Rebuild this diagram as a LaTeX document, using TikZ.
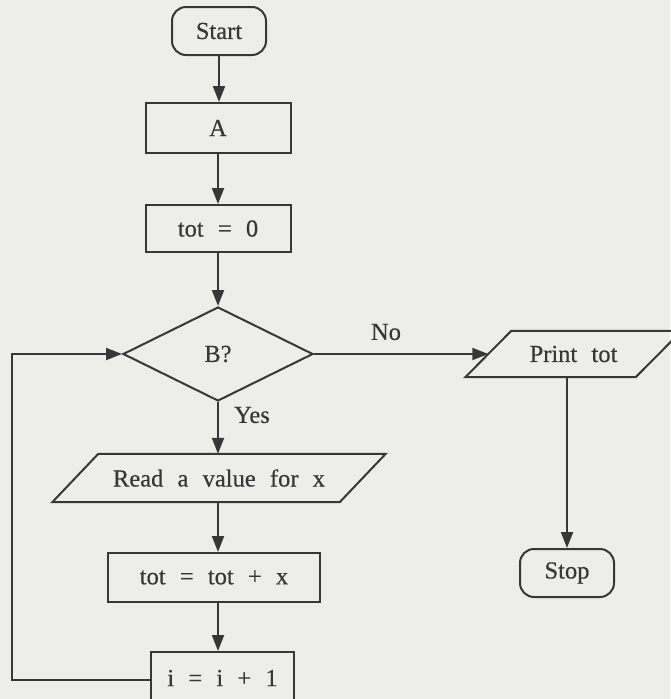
\documentclass[tikz,border=0pt]{standalone}
\usepackage{fontspec}
\setmainfont[FakeBold=0.4]{Liberation Serif}
\usetikzlibrary{shapes.geometric,arrows.meta}
\definecolor{ink}{RGB}{55,55,55}
\definecolor{paper}{RGB}{237,237,234}
\newcommand\flowfont{\fontsize{24.5}{28}\selectfont\spaceskip 0.58em\relax}
\begin{document}
\begin{tikzpicture}[x=1pt,y=-1pt,
  every node/.style={font=\flowfont, text=ink},
  line/.style={draw=ink, line width=2pt},
  box/.style={line, rectangle, inner sep=0pt},
  term/.style={box, rounded corners=14pt},
  iobody/.style={rectangle, inner sep=0pt},
  dec/.style={line, diamond, inner sep=0pt},
  arr/.style={line, -{Triangle[length=16pt,width=12pt]}},
  lbl/.style={inner sep=0pt}]
\fill[paper] (0,0) rectangle (670,699);
\useasboundingbox (0,0) rectangle (670,699);

\node[term, minimum width=94pt, minimum height=48pt] (start) at (219,31) {Start};
\node[box, minimum width=145pt, minimum height=50pt] (A) at (218,128) {A};
\node[box, minimum width=145pt, minimum height=47pt] (t0) at (218,228.5) {tot = 0};
\node[dec, minimum width=190pt, minimum height=94pt] (B) at (218,354) {B?};
\node[iobody, minimum width=287pt, minimum height=48pt] (read) at (219,478) {Read a value for x};
\node[box, minimum width=212pt, minimum height=49pt] (tx) at (214,577.5) {tot = tot + x};
\node[box, minimum width=143pt, minimum height=52pt] (inc) at (222.5,678) {i = i + 1};
\node[iobody, minimum width=170pt, minimum height=46pt] (print) at (573.5,354) {Print tot};
\node[term, minimum width=94pt, minimum height=48pt] (stop) at (567,573) {Stop};

\draw[line] ([xshift=-23pt]read.south west) -- ([xshift=-23pt]read.south east)
  -- ([xshift=23pt]read.north east) -- ([xshift=23pt]read.north west) -- cycle;
\draw[line] ([xshift=-23pt]print.south west) -- ([xshift=-23pt]print.south east)
  -- ([xshift=23pt]print.north east) -- ([xshift=23pt]print.north west) -- cycle;

\node[lbl] (no) at (386,332) {No};
\node[lbl] (yes) at (252,415) {Yes};

\coordinate (lp) at (12,680);

\draw[arr] (start.south) -- (start.south |- A.north);
\draw[arr] (A.south) -- (A.south |- t0.north);
\draw[arr] (t0.south) -- (B.north);
\draw[arr] (B.south) -- (B.south |- read.north);
\draw[arr] (B.south |- read.south) -- (B.south |- tx.north);
\draw[arr] (B.south |- tx.south) -- (B.south |- inc.north);
\draw[arr] (B.east) -- (print.west);
\draw[arr] (stop.north |- print.south) -- (stop.north);
\draw[arr] (inc.west |- lp) -- (lp) |- (B.west);
\end{tikzpicture}
\end{document}
